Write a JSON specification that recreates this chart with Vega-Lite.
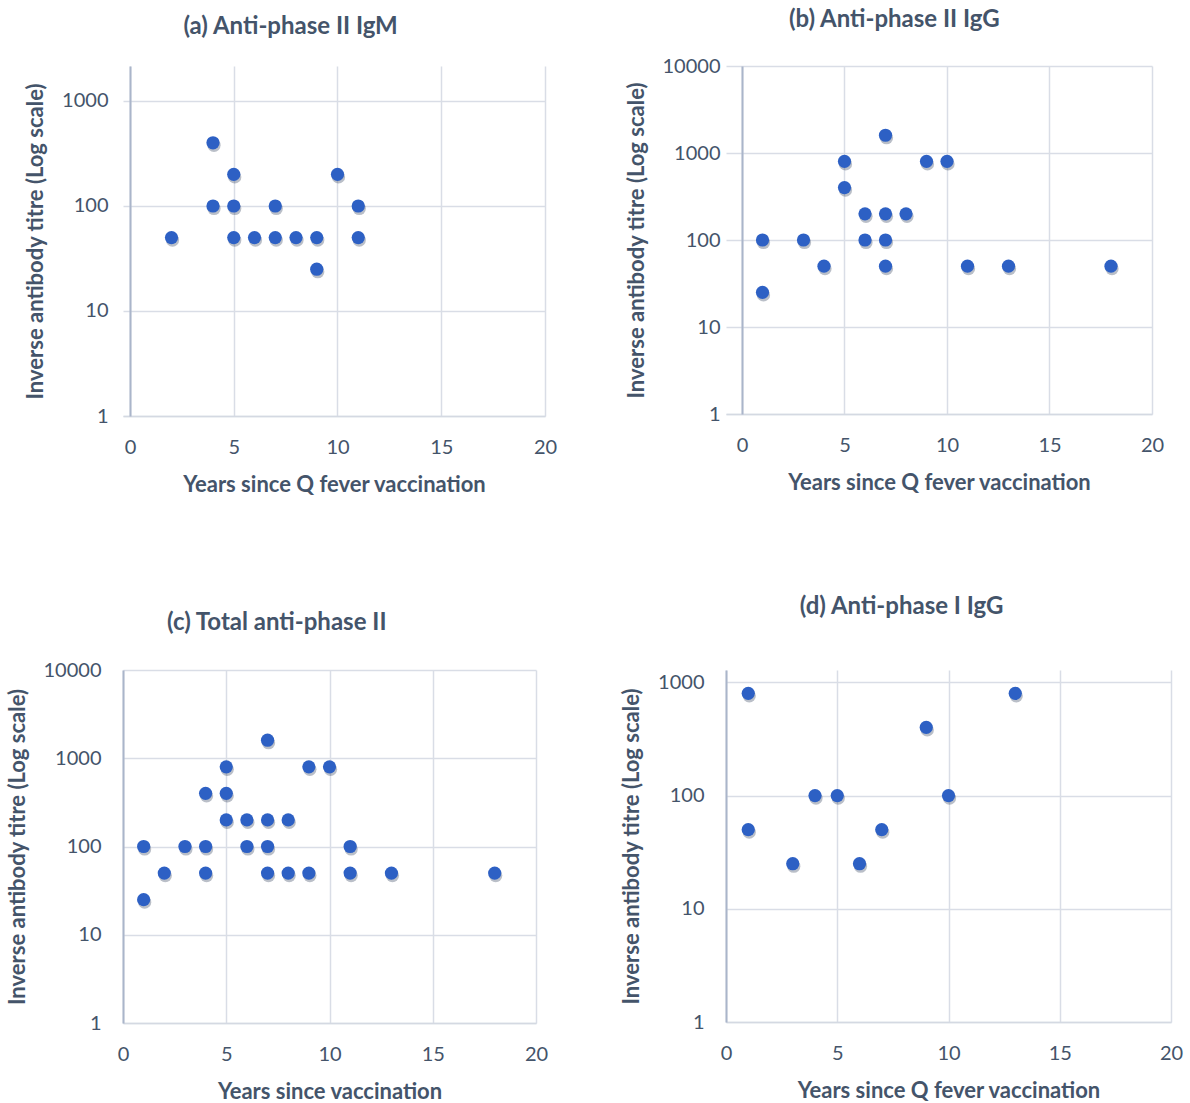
{
  "$schema": "https://vega.github.io/schema/vega-lite/v6.json",
  "autosize": {"type": "none"},
  "padding": {"left": 123, "top": 66, "right": 1067, "bottom": 1037},
  "background": "white",
  "datasets": {
    "a": [
      {"years": 2, "titre": 50},
      {"years": 4, "titre": 400},
      {"years": 4, "titre": 100},
      {"years": 5, "titre": 200},
      {"years": 5, "titre": 100},
      {"years": 5, "titre": 50},
      {"years": 6, "titre": 50},
      {"years": 7, "titre": 100},
      {"years": 7, "titre": 50},
      {"years": 8, "titre": 50},
      {"years": 9, "titre": 50},
      {"years": 9, "titre": 25},
      {"years": 10, "titre": 200},
      {"years": 11, "titre": 100},
      {"years": 11, "titre": 50}
    ],
    "b": [
      {"years": 1, "titre": 100},
      {"years": 1, "titre": 25},
      {"years": 3, "titre": 100},
      {"years": 4, "titre": 50},
      {"years": 5, "titre": 800},
      {"years": 5, "titre": 400},
      {"years": 6, "titre": 200},
      {"years": 6, "titre": 100},
      {"years": 7, "titre": 1600},
      {"years": 7, "titre": 200},
      {"years": 7, "titre": 100},
      {"years": 7, "titre": 50},
      {"years": 8, "titre": 200},
      {"years": 9, "titre": 800},
      {"years": 10, "titre": 800},
      {"years": 11, "titre": 50},
      {"years": 13, "titre": 50},
      {"years": 18, "titre": 50}
    ],
    "c": [
      {"years": 1, "titre": 100},
      {"years": 1, "titre": 25},
      {"years": 2, "titre": 50},
      {"years": 3, "titre": 100},
      {"years": 4, "titre": 400},
      {"years": 4, "titre": 100},
      {"years": 4, "titre": 50},
      {"years": 5, "titre": 800},
      {"years": 5, "titre": 400},
      {"years": 5, "titre": 200},
      {"years": 6, "titre": 200},
      {"years": 6, "titre": 100},
      {"years": 7, "titre": 1600},
      {"years": 7, "titre": 200},
      {"years": 7, "titre": 100},
      {"years": 7, "titre": 50},
      {"years": 8, "titre": 200},
      {"years": 8, "titre": 50},
      {"years": 9, "titre": 800},
      {"years": 9, "titre": 50},
      {"years": 10, "titre": 800},
      {"years": 11, "titre": 100},
      {"years": 11, "titre": 50},
      {"years": 13, "titre": 50},
      {"years": 18, "titre": 50}
    ],
    "d": [
      {"years": 1, "titre": 800},
      {"years": 1, "titre": 50},
      {"years": 3, "titre": 25},
      {"years": 4, "titre": 100},
      {"years": 5, "titre": 100},
      {"years": 6, "titre": 25},
      {"years": 7, "titre": 50},
      {"years": 9, "titre": 400},
      {"years": 10, "titre": 100},
      {"years": 13, "titre": 800}
    ]
  },
  "columns": 2,
  "align": "none",
  "bounds": "flush",
  "spacing": {"row": 254, "column": 181},
  "concat": [
    {
      "data": {"name": "a"},
      "width": 422,
      "height": 350,
      "title": {"text": "(a) Anti-phase II IgM", "offset": 27},
      "encoding": {
        "x": {"field": "years", "type": "quantitative", "scale": {"domain": [-0.337, 20], "nice": false, "zero": false}, "axis": {"values": [0, 5, 10, 15, 20], "title": "Years since Q fever vaccination"}},
        "y": {"field": "titre", "type": "quantitative", "scale": {"type": "log", "domain": [1, 2154], "nice": false}, "axis": {"values": [1, 10, 100, 1000], "format": "d", "offset": -7, "title": "Inverse antibody titre (Log scale)"}}
      },
      "layer": [
        {"mark": {"type": "circle", "size": 175, "color": "#1c2b4a", "opacity": 0.3, "xOffset": 1, "yOffset": 2.5}},
        {"mark": {"type": "circle", "size": 175, "color": "#2d60c4", "opacity": 1}}
      ]
    },
    {
      "data": {"name": "b"},
      "width": 426,
      "height": 348,
      "title": {"text": "(b) Anti-phase II IgG", "offset": 24},
      "encoding": {
        "x": {"field": "years", "type": "quantitative", "scale": {"domain": [-0.78, 20], "nice": false, "zero": false}, "axis": {"values": [0, 5, 10, 15, 20], "title": "Years since Q fever vaccination"}},
        "y": {"field": "titre", "type": "quantitative", "scale": {"type": "log", "domain": [1, 10000], "nice": false}, "axis": {"values": [1, 10, 100, 1000, 10000], "format": "d", "offset": -16, "title": "Inverse antibody titre (Log scale)"}}
      },
      "layer": [
        {"mark": {"type": "circle", "size": 175, "color": "#1c2b4a", "opacity": 0.3, "xOffset": 1, "yOffset": 2.5}},
        {"mark": {"type": "circle", "size": 175, "color": "#2d60c4", "opacity": 1}}
      ]
    },
    {
      "data": {"name": "c"},
      "width": 413,
      "height": 353,
      "title": {"text": "(c) Total anti-phase II", "offset": 25},
      "encoding": {
        "x": {"field": "years", "type": "quantitative", "scale": {"domain": [0, 20], "nice": false, "zero": false}, "axis": {"values": [0, 5, 10, 15, 20], "title": "Years since vaccination"}},
        "y": {"field": "titre", "type": "quantitative", "scale": {"type": "log", "domain": [1, 10000], "nice": false}, "axis": {"values": [1, 10, 100, 1000, 10000], "format": "d", "title": "Inverse antibody titre (Log scale)"}}
      },
      "layer": [
        {"mark": {"type": "circle", "size": 175, "color": "#1c2b4a", "opacity": 0.3, "xOffset": 1, "yOffset": 2.5}},
        {"mark": {"type": "circle", "size": 175, "color": "#2d60c4", "opacity": 1}}
      ]
    },
    {
      "data": {"name": "d"},
      "width": 445,
      "height": 352,
      "title": {"text": "(d) Anti-phase I IgG", "offset": 51},
      "encoding": {
        "x": {"field": "years", "type": "quantitative", "scale": {"domain": [0, 20], "nice": false, "zero": false}, "axis": {"values": [0, 5, 10, 15, 20], "title": "Years since Q fever vaccination"}},
        "y": {"field": "titre", "type": "quantitative", "scale": {"type": "log", "domain": [1, 1286], "nice": false}, "axis": {"values": [1, 10, 100, 1000], "format": "d", "title": "Inverse antibody titre (Log scale)"}}
      },
      "layer": [
        {"mark": {"type": "circle", "size": 175, "color": "#1c2b4a", "opacity": 0.3, "xOffset": 1, "yOffset": 2.5}},
        {"mark": {"type": "circle", "size": 175, "color": "#2d60c4", "opacity": 1}}
      ]
    }
  ],
  "config": {
    "view": {"stroke": null},
    "font": "Lato",
    "title": {"font": "Lato", "fontSize": 24, "fontWeight": "bold", "color": "#44546a", "anchor": "middle", "frame": "bounds"},
    "axis": {
      "labelFont": "Lato", "labelFontSize": 20, "labelColor": "#44546a", "labelFlush": false,
      "titleFont": "Lato", "titleFontSize": 22, "titleFontWeight": "bold", "titleColor": "#44546a",
      "gridColor": "#d9dde6", "gridWidth": 1.5, "ticks": false,
      "domainColor": "#d4d9e2", "domainWidth": 1.5
    },
    "axisX": {"labelPadding": 21, "titlePadding": 17},
    "axisY": {"labelPadding": 22, "titlePadding": 14, "domainColor": "#aab5ca", "domainWidth": 2}
  }
}
